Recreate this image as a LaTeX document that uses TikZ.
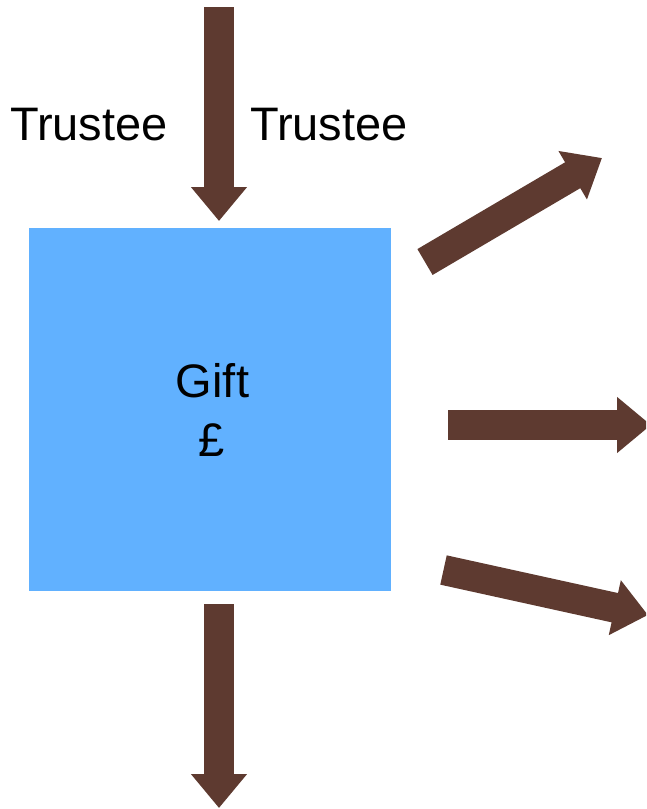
\documentclass[tikz,border=0pt]{standalone}
\usepackage{fontspec}
\setmainfont{Liberation Sans}
\usetikzlibrary{arrows.meta}
\definecolor{brownarrow}{RGB}{94,58,48}
\definecolor{giftblue}{RGB}{97,177,255}
\tikzset{
  blockarrow/.style={draw=brownarrow, line width=30pt, line cap=butt,
    -{Triangle[width=54pt,length=34pt]}},
  label/.style={font=\fontsize{47}{56}\selectfont, anchor=base, inner sep=0pt},
}
\begin{document}
\begin{tikzpicture}[x=1pt,y=-1pt]
  \clip (0,0) rectangle (646,809);
  \node[fill=giftblue, minimum width=362pt, minimum height=363pt, inner sep=0pt, anchor=north west] (box) at (29,228) {};
  \node[label] (gift) at (212.5,397) {Gift};
  \node[label] (pound) at (212,456) {£};
  \node[label] (t1) at (89,140) {Trustee};
  \node[label] (t2) at (329,140) {Trustee};
  \coordinate (topS) at (219,7);
  \coordinate (topE) at (219,221);
  \coordinate (botS) at (219,604);
  \coordinate (botE) at (219,808);
  \coordinate (diagS) at (425,262);
  \coordinate (diagE) at (602,158);
  \coordinate (midS) at (448,425);
  \coordinate (midE) at (651,425);
  \coordinate (lowS) at (443.5,570);
  \coordinate (lowE) at (648,615);
  \draw[blockarrow] (topS) -- (topE);
  \draw[blockarrow] (botS) -- (botE);
  \draw[blockarrow] (diagS) -- (diagE);
  \draw[blockarrow] (midS) -- (midE);
  \draw[blockarrow] (lowS) -- (lowE);
\end{tikzpicture}
\end{document}
